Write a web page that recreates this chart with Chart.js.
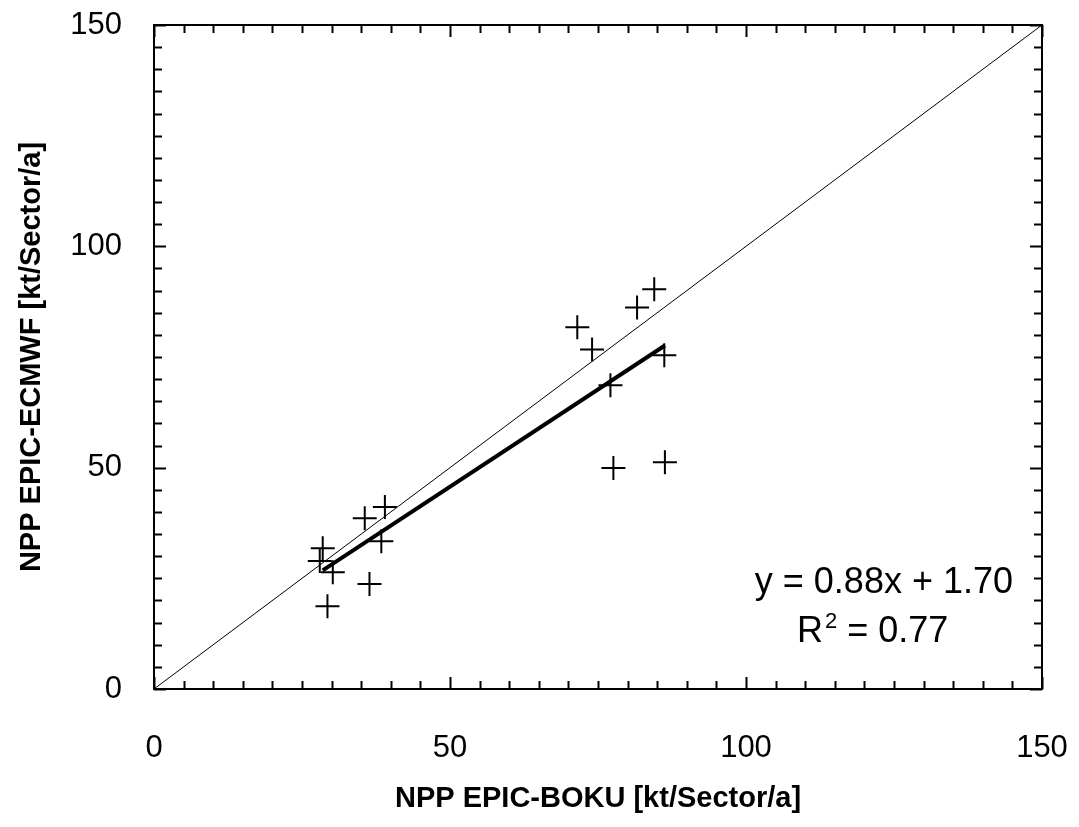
<!DOCTYPE html>
<html lang="en">
<head>
  <meta charset="UTF-8" />
  <title>NPP EPIC-BOKU vs EPIC-ECMWF</title>
  <script src="https://cdn.jsdelivr.net/npm/chart.js"></script>
  <style>
    body { margin: 0; background: #fff; }
    canvas { display: block; }
  </style>
</head>
<body>
  <canvas id="chart1" width="1079" height="827"></canvas>

  <script>
    // Scatter points (kt/Sector/a)
    const bokuX = [28.5, 28.0, 30.2, 38.4, 36.4, 29.3, 35.6, 39.0, 84.5, 81.6, 71.5, 74.0, 86.2, 77.1, 77.6, 86.3];
    const ecmwfY = [31.8, 28.9, 26.4, 33.4, 23.7, 18.7, 38.6, 41.1, 90.3, 86.2, 81.7, 76.7, 75.4, 68.6, 49.9, 51.2];

    // 1:1 line and regression line end points
    const oneToOneX = [0, 150];
    const oneToOneY = [0, 150];
    const fitX = [28.5, 86.3];
    const fitY = [26.8, 77.6];

    const axisMin = 0;
    const axisMax = 150;
    const majorStep = 50;
    const minorStep = 5;

    const eqText = 'y = 0.88x + 1.70';
    const r2Value = ' = 0.77';

    const pts = (xs, ys) => xs.map((v, i) => ({ x: v, y: ys[i] }));

    // frame, inward ticks on all four sides, and the equation text
    const framePlugin = {
      id: 'frame',
      afterDraw(chart) {
        const { ctx, chartArea: a, scales: { x, y } } = chart;
        ctx.save();
        ctx.strokeStyle = '#000';
        ctx.lineWidth = 2;
        ctx.strokeRect(a.left, a.top, a.right - a.left, a.bottom - a.top);
        ctx.beginPath();
        for (let v = axisMin; v <= axisMax; v += minorStep) {
          const len = v % majorStep === 0 ? 12 : 8;
          const px = Math.round(x.getPixelForValue(v)) + 0.5;
          const py = Math.round(y.getPixelForValue(v)) + 0.5;
          ctx.moveTo(px, a.bottom); ctx.lineTo(px, a.bottom - len);
          ctx.moveTo(px, a.top); ctx.lineTo(px, a.top + len);
          ctx.moveTo(a.left, py); ctx.lineTo(a.left + len, py);
          ctx.moveTo(a.right, py); ctx.lineTo(a.right - len, py);
        }
        ctx.stroke();

        // regression equation
        const big = '36px "Liberation Sans", Arial, sans-serif';
        ctx.fillStyle = '#000';
        ctx.textBaseline = 'alphabetic';
        ctx.font = big;
        ctx.textAlign = 'right';
        ctx.fillText(eqText, a.right - 29, 593);
        ctx.textAlign = 'left';
        let tx = 797;
        ctx.fillText('R', tx, 642);
        tx += ctx.measureText('R').width + 2;
        ctx.font = '22px "Liberation Sans", Arial, sans-serif';
        ctx.fillText('2', tx, 628);
        tx += ctx.measureText('2').width;
        ctx.font = big;
        ctx.fillText(r2Value, tx, 642);
        ctx.restore();
      }
    };

    const tickFont = { family: '"Liberation Sans", Arial, sans-serif', size: 31 };
    const titleFont = { family: '"Liberation Sans", Arial, sans-serif', size: 29, weight: 'bold' };

    new Chart(document.getElementById('chart1').getContext('2d'), {
      type: 'scatter',
      data: {
        datasets: [
          {
            type: 'line',
            data: pts(oneToOneX, oneToOneY),
            borderColor: '#000',
            borderWidth: 1,
            pointRadius: 0,
            fill: false
          },
          {
            type: 'line',
            data: pts(fitX, fitY),
            borderColor: '#000',
            borderWidth: 4,
            pointRadius: 0,
            fill: false
          },
          {
            data: pts(bokuX, ecmwfY),
            pointStyle: 'cross',
            pointRadius: 12,
            pointBorderWidth: 2,
            borderColor: '#000',
            backgroundColor: '#000'
          }
        ]
      },
      options: {
        responsive: false,
        animation: false,
        layout: { padding: { top: 25, right: 37, left: 0, bottom: 0 } },
        plugins: { legend: { display: false }, tooltip: { enabled: false } },
        scales: {
          x: {
            type: 'linear',
            min: axisMin,
            max: axisMax,
            grid: { display: false },
            border: { display: false },
            afterFit: s => { s.height = 138; s.paddingLeft = 0; s.paddingRight = 0; },
            ticks: { stepSize: majorStep, color: '#000', font: tickFont, padding: 33, maxRotation: 0 },
            title: {
              display: true,
              text: 'NPP EPIC-BOKU [kt/Sector/a]',
              color: '#000',
              font: titleFont,
              padding: { top: 0, bottom: 11 }
            }
          },
          y: {
            type: 'linear',
            min: axisMin,
            max: axisMax,
            grid: { display: false },
            border: { display: false },
            afterFit: s => { s.width = 154; s.paddingTop = 0; s.paddingBottom = 0; },
            ticks: { stepSize: majorStep, color: '#000', font: tickFont, padding: 24 },
            title: {
              display: true,
              text: 'NPP EPIC-ECMWF [kt/Sector/a]',
              color: '#000',
              font: titleFont,
              padding: { top: 15, bottom: 0 }
            }
          }
        }
      },
      plugins: [framePlugin]
    });
  </script>
</body>
</html>
